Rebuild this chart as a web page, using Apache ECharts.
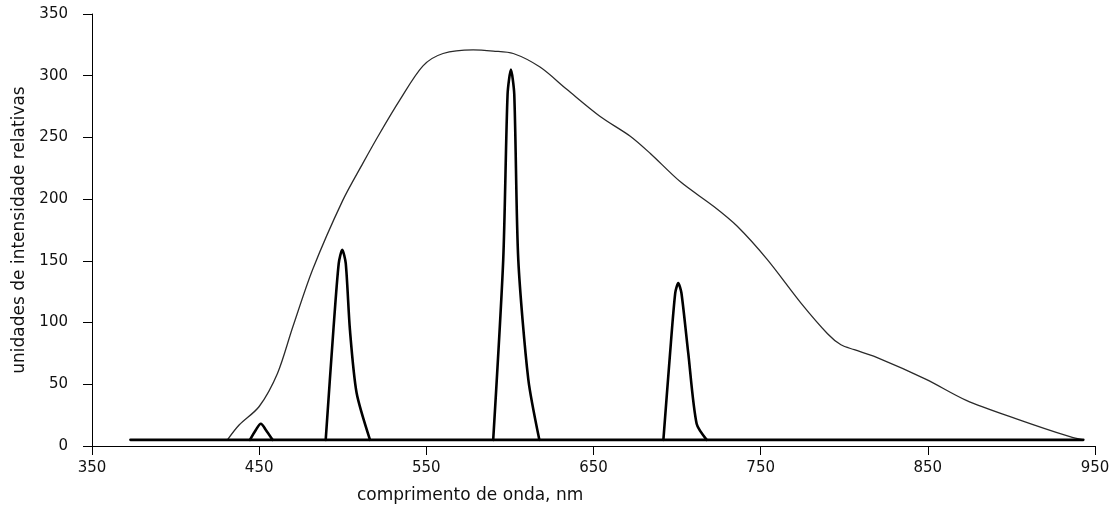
<!DOCTYPE html>
<html>
<head>
<meta charset="utf-8">
<title>espectro</title>
<script src="https://cdn.jsdelivr.net/npm/echarts@6/dist/echarts.min.js"></script>
<style>
    html, body { margin: 0; padding: 0; background: #fff; }
    #chart { width: 1116px; height: 524px; }
</style>
</head>
<body>
<div id="chart"></div>
<script>
'use strict';

// curva larga (espectro da fonte)
var broadX = [431, 438, 450, 461, 470, 482, 500, 512, 522, 534, 548, 560, 578, 590, 602, 618, 634, 654, 672, 684, 702, 722, 736, 754, 774, 790, 798, 806, 819, 849, 873, 903, 935, 943];
var broadY = [5, 17, 32, 59, 96, 143, 199, 229, 253, 280, 308, 318, 321, 320, 318, 307, 289, 267, 251, 237, 214, 194, 178, 151, 116, 91, 82, 78, 72, 54, 37, 22, 7.5, 5];

// linha de base dos picos
var baseX = [373, 943];
var baseY = [5, 5];

// picos (linha grossa)
var peak1X = [444.5, 448, 451, 454, 458];
var peak1Y = [5, 13, 18, 13, 5];
var peak2X = [489.8, 494.4, 497.6, 499.7, 501.8, 504.3, 508.3, 516.3];
var peak2Y = [5, 94, 148, 159, 148, 94, 43, 5];
var peak3X = [590, 596, 598.6, 600.6, 602.6, 605, 611, 617.6];
var peak3Y = [5, 151, 285, 305, 285, 151, 54, 5];
var peak4X = [691.8, 695.8, 698.9, 700.7, 702.6, 706.7, 711.7, 717.7];
var peak4Y = [5, 75, 124, 132, 124, 75, 18, 5];

var xTicks = [350, 450, 550, 650, 750, 850, 950];
var yTicks = [0, 50, 100, 150, 200, 250, 300, 350];

function pairs(xs, ys) {
    var out = [];
    for (var i = 0; i < xs.length; i++) {
        out.push([xs[i], ys[i]]);
    }
    return out;
}

// serie da linha grossa
function thick(xs, ys, smooth) {
    return {
        type: 'line',
        data: pairs(xs, ys),
        smooth: smooth,
        symbol: 'none',
        lineStyle: { color: '#000', width: 2.6, join: 'round', cap: 'round' },
        z: 3
    };
}

var myChart = echarts.init(document.getElementById('chart'));
var font = '"DejaVu Sans", Verdana, sans-serif';

var option = {
    animation: false,
    backgroundColor: '#fff',
    grid: { left: 92, right: 21, top: 14, bottom: 78 },
    xAxis: {
        type: 'value',
        min: xTicks[0],
        max: xTicks[xTicks.length - 1],
        interval: 100,
        axisLine: { show: true, lineStyle: { color: '#000', width: 1 } },
        axisTick: { show: true, length: 9, lineStyle: { color: '#000' } },
        axisLabel: { margin: 15, color: '#111', fontSize: 15, fontFamily: font },
        splitLine: { show: false }
    },
    yAxis: {
        type: 'value',
        min: yTicks[0],
        max: yTicks[yTicks.length - 1],
        interval: 50,
        name: 'unidades de intensidade relativas',
        nameLocation: 'middle',
        nameGap: 60,
        nameTextStyle: { color: '#111', fontSize: 17, fontFamily: font },
        axisLine: { show: true, lineStyle: { color: '#000', width: 1 } },
        axisTick: { show: true, length: 9, lineStyle: { color: '#000' } },
        axisLabel: { margin: 24, color: '#111', fontSize: 15, fontFamily: font },
        splitLine: { show: false }
    },
    graphic: [{
        type: 'text',
        left: 357,
        top: 487,
        style: { text: 'comprimento de onda, nm', fill: '#111', font: '17px ' + font }
    }],
    series: [{
        type: 'line',
        data: pairs(broadX, broadY),
        smooth: 0.3,
        symbol: 'none',
        lineStyle: { color: '#2a2a2a', width: 1.3 },
        z: 2
    },
    thick(baseX, baseY, false),
    thick(peak1X, peak1Y, 0.3),
    thick(peak2X, peak2Y, 0.25),
    thick(peak3X, peak3Y, 0.25),
    thick(peak4X, peak4Y, 0.25)]
};

myChart.setOption(option);
</script>
</body>
</html>
